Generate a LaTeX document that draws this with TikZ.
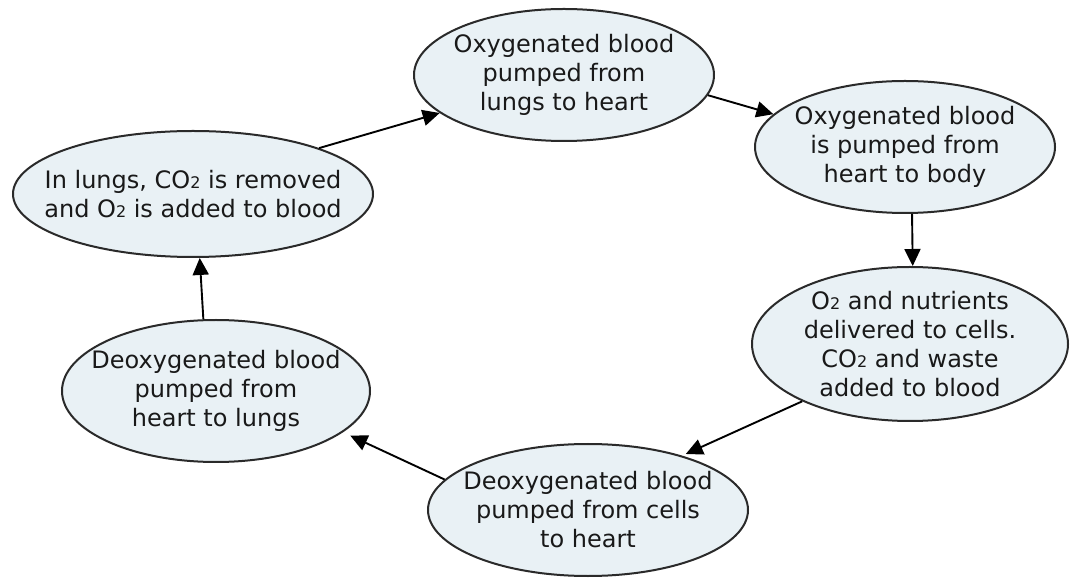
\documentclass[tikz,border=0pt]{standalone}
\usepackage{fontspec}
\usepackage{xcolor}
\setmainfont{DejaVu Sans}
\usetikzlibrary{shapes.geometric,arrows.meta}
\definecolor{bubblefill}{HTML}{E9F1F5}
\definecolor{rimgrey}{HTML}{2A2A2A}
\newcommand{\subtwo}{{\fontsize{16pt}{16pt}\selectfont 2}}

\begin{document}
\begin{tikzpicture}[x=1pt, y=1pt, >={Triangle[length=17pt,width=16pt]},
  bubble/.style={ellipse, draw=rimgrey, line width=2pt, fill=bubblefill, inner sep=0pt},
  words/.style={align=center, text=black!90, font=\fontsize{24pt}{29pt}\selectfont},
  link/.style={->, line width=1.9pt, black}]

\useasboundingbox (0,0) rectangle (1075,578);

\node[bubble, minimum width=300pt, minimum height=132pt,
  label={[words]center:{Oxygenated blood\\pumped from\\lungs to heart}}] (lungs2heart) at (564,503) {};
\node[bubble, minimum width=300pt, minimum height=132pt,
  label={[words]center:{Oxygenated blood\\is pumped from\\heart to body}}] (heart2body) at (905,431) {};
\node[bubble, minimum width=316pt, minimum height=154pt,
  label={[words]center:{O\subtwo{} and nutrients\\delivered to cells.\\CO\subtwo{} and waste\\added to blood}}] (cells) at (910,234) {};
\node[bubble, minimum width=320pt, minimum height=132pt,
  label={[words]center:{Deoxygenated blood\\pumped from cells\\to heart}}] (cells2heart) at (588,68) {};
\node[bubble, minimum width=308pt, minimum height=142pt,
  label={[words]center:{Deoxygenated blood\\pumped from\\heart to lungs}}] (heart2lungs) at (216,187) {};
\node[bubble, minimum width=360pt, minimum height=126pt,
  label={[words]center:{In lungs, CO\subtwo{} is removed\\and O\subtwo{} is added to blood}}] (lungs) at (193,384) {};

\draw[link] (lungs.20) -- (lungs2heart.197);
\draw[link] (lungs2heart.352) -- (heart2body.166);
\draw[link] (heart2body.276) -- (cells.88);
\draw[link, shorten >=4pt] (cells.208) -- (cells2heart.30);
\draw[link, shorten >=8pt] (cells2heart.168) -- (heart2lungs.342);
\draw[link] (heart2lungs.100) -- (lungs.276);

\end{tikzpicture}
\end{document}
